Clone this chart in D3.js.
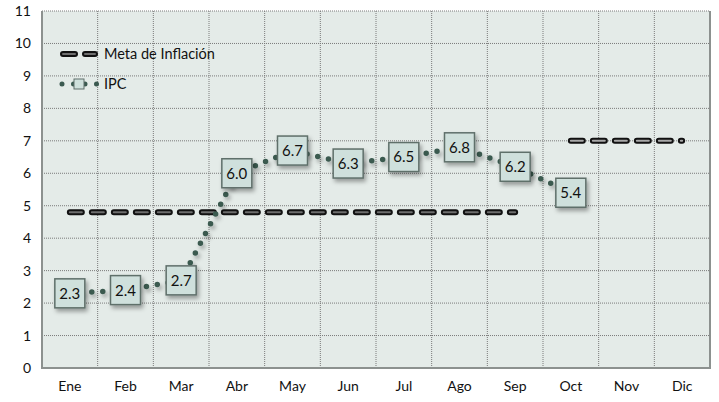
<!DOCTYPE html>
<html><head><meta charset="utf-8">
<script src="https://cdn.jsdelivr.net/npm/d3@7"></script>
<style>body{margin:0;background:#fff}svg{display:block}text{font-family:Lato,"Open Sans",sans-serif}</style>
</head><body><svg id="c" width="719" height="402"></svg>
<script>
const months = ["Ene","Feb","Mar","Abr","May","Jun","Jul","Ago","Sep","Oct","Nov","Dic"];
const ipc = [2.3,2.4,2.7,6.0,6.7,6.3,6.5,6.8,6.2,5.4];
const metaA = [4.8,4.8,4.8,4.8,4.8,4.8,4.8,4.8,4.8];
const metaB = [7,7,7];
const yTicks = [0,1,2,3,4,5,6,7,8,9,10,11];

const svg = d3.select("#c");
const L=42, R=710, T=11, B=368;
const x = d3.scaleBand().domain(months).range([L,R]);
const y = d3.scaleLinear().domain([0,11]).range([B,T]);
const cx = m => x(m)+x.bandwidth()/2;

const defs = svg.append("defs");
const f = defs.append("filter").attr("id","sh").attr("x","-30%").attr("y","-30%").attr("width","180%").attr("height","180%");
f.append("feDropShadow").attr("dx",2).attr("dy",3).attr("stdDeviation",2).attr("flood-color","#000").attr("flood-opacity",0.35);

svg.append("rect").attr("x",L).attr("y",T).attr("width",R-L).attr("height",B-T).attr("fill","#e4ebe8");

// grid
svg.append("g").selectAll("line").data(yTicks).join("line")
  .attr("x1",L).attr("x2",R).attr("y1",d=>y(d)).attr("y2",d=>y(d))
  .attr("stroke","#7a7a7a").attr("stroke-width",1).attr("stroke-dasharray","1 1");
svg.append("g").selectAll("line").data(months.slice(1)).join("line")
  .attr("x1",d=>x(d)).attr("x2",d=>x(d)).attr("y1",T).attr("y2",B)
  .attr("stroke","#7a7a7a").attr("stroke-width",1).attr("stroke-dasharray","1 1");
// border
svg.append("path").attr("d",`M${L},${T}V${B}H${R}V${T}`).attr("fill","none").attr("stroke","#8c918f").attr("stroke-width",2);

// axes labels
const yAxis = d3.axisLeft(y).tickValues(yTicks).tickSize(0).tickPadding(11);
const gy = svg.append("g").attr("transform",`translate(${L},0)`).call(yAxis);
gy.select(".domain").remove();
gy.selectAll("text").attr("font-size",14).attr("fill","#111").style("font-family","Lato,sans-serif");
const xAxis = d3.axisBottom(x).tickSize(0).tickPadding(13);
const gx = svg.append("g").attr("transform",`translate(0,${B})`).call(xAxis);
gx.select(".domain").remove();
gx.selectAll("text").attr("font-size",14).attr("fill","#111").style("font-family","Lato,sans-serif");

// meta lines
function meta(data, ms, inner){
  const ln = d3.line().x((d,i)=>cx(ms[i])).y(d=>y(d));
  svg.append("path").attr("d",ln(data)).attr("fill","none").attr("stroke","#111").attr("stroke-width",6)
    .attr("stroke-linecap","round").attr("stroke-dasharray","12 10");
  svg.append("path").attr("d",ln(data)).attr("fill","none").attr("stroke",inner).attr("stroke-width",2)
    .attr("stroke-linecap","round").attr("stroke-dasharray","12 10");
}
meta(metaA, months.slice(0,9), "#6e6e6e");
meta(metaB, months.slice(9), "#a8a8a8");

// IPC line
const ipcLine = d3.line().x((d,i)=>cx(months[i])).y(d=>y(d));
svg.append("path").attr("d",ipcLine(ipc)).attr("fill","none").attr("stroke","#3b5a50").attr("stroke-width",5.5)
  .attr("stroke-linecap","round").attr("stroke-dasharray","0 11").attr("filter","url(#sh)");

// boxes
const bw=30, bh=29;
const g = svg.append("g").selectAll("g").data(ipc).join("g")
  .attr("transform",(d,i)=>`translate(${cx(months[i])},${y(d)})`);
g.append("rect").attr("x",-bw/2).attr("y",-bh/2).attr("width",bw).attr("height",bh)
  .attr("fill","#cfe0dc").attr("stroke","#5f6f6a").attr("stroke-width",1.5).attr("filter","url(#sh)");
g.append("text").text(d=>d.toFixed(1)).attr("text-anchor","middle").attr("dy","0.36em")
  .attr("font-size",15).attr("fill","#111");

// legend
const lg = svg.append("g");
[["#111",6],["#6e6e6e",2]].forEach(([c,w])=>{
  lg.append("line").attr("x1",63).attr("x2",95).attr("y1",54).attr("y2",54).attr("stroke",c).attr("stroke-width",w)
    .attr("stroke-linecap","round").attr("stroke-dasharray","12 10");
});
lg.append("text").text("Meta de Inflación").attr("x",104).attr("y",54).attr("dy","0.36em").attr("font-size",14.5).attr("fill","#111");
lg.append("line").attr("x1",62).attr("x2",97).attr("y1",84).attr("y2",84).attr("stroke","#3b5a50").attr("stroke-width",5)
  .attr("stroke-linecap","round").attr("stroke-dasharray","0 11.5");
lg.append("rect").attr("x",74).attr("y",79).attr("width",10).attr("height",10).attr("fill","#cfe0dc").attr("stroke","#5f6f6a").attr("stroke-width",1);
lg.append("text").text("IPC").attr("x",104).attr("y",84).attr("dy","0.36em").attr("font-size",14.5).attr("fill","#111");
</script></body></html>
